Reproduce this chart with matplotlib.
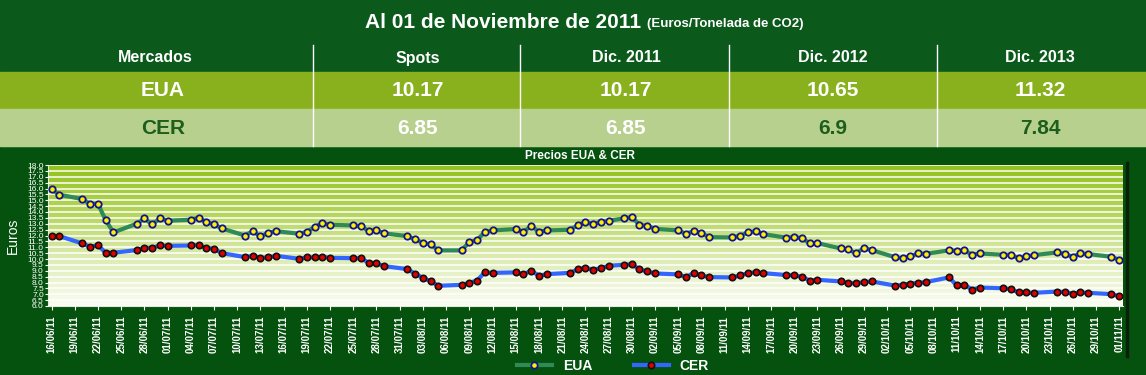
import matplotlib
matplotlib.use('Agg')
import matplotlib.pyplot as plt
import matplotlib.dates as mdates
import numpy as np
import pandas as pd
from matplotlib.patches import Rectangle
from matplotlib.colors import LinearSegmentedColormap

# tabla de cierre
columnas = ['Spots', 'Dic. 2011', 'Dic. 2012', 'Dic. 2013']
mercados = ['EUA', 'CER']
precios_eua = ['10.17', '10.17', '10.65', '11.32']
precios_cer = ['6.85', '6.85', '6.9', '7.84']

# serie diaria (Euros/t)
fechas = ['16/06/11', '17/06/11', '20/06/11', '21/06/11', '22/06/11', '23/06/11', '24/06/11',
          '27/06/11', '28/06/11', '29/06/11', '30/06/11', '01/07/11',
          '04/07/11', '05/07/11', '06/07/11', '07/07/11', '08/07/11',
          '11/07/11', '12/07/11', '13/07/11', '14/07/11', '15/07/11',
          '18/07/11', '19/07/11', '20/07/11', '21/07/11', '22/07/11',
          '25/07/11', '26/07/11', '27/07/11', '28/07/11', '29/07/11',
          '01/08/11', '02/08/11', '03/08/11', '04/08/11', '05/08/11',
          '08/08/11', '09/08/11', '10/08/11', '11/08/11', '12/08/11',
          '15/08/11', '16/08/11', '17/08/11', '18/08/11', '19/08/11',
          '22/08/11', '23/08/11', '24/08/11', '25/08/11', '26/08/11', '27/08/11',
          '29/08/11', '30/08/11', '31/08/11', '01/09/11', '02/09/11',
          '05/09/11', '06/09/11', '07/09/11', '08/09/11', '09/09/11',
          '12/09/11', '13/09/11', '14/09/11', '15/09/11', '16/09/11',
          '19/09/11', '20/09/11', '21/09/11', '22/09/11', '23/09/11',
          '26/09/11', '27/09/11', '28/09/11', '29/09/11', '30/09/11',
          '03/10/11', '04/10/11', '05/10/11', '06/10/11', '07/10/11',
          '10/10/11', '11/10/11', '12/10/11', '13/10/11', '14/10/11',
          '17/10/11', '18/10/11', '19/10/11', '20/10/11', '21/10/11',
          '24/10/11', '25/10/11', '26/10/11', '27/10/11', '28/10/11',
          '31/10/11', '01/11/11']
eua = [15.93, 15.47, 15.10, 14.68, 14.68, 13.31, 12.26,
       13.00, 13.45, 12.94, 13.45, 13.26,
       13.34, 13.52, 13.14, 12.97, 12.60,
       12.00, 12.37, 11.92, 12.23, 12.37,
       12.15, 12.32, 12.72, 13.06, 12.91,
       12.86, 12.80, 12.37, 12.45, 12.18,
       11.95, 11.66, 11.38, 11.24, 10.73,
       10.73, 11.44, 11.61, 12.29, 12.43,
       12.55, 12.32, 12.80, 12.32, 12.43,
       12.49, 12.86, 13.14, 13.00, 13.14, 13.26,
       13.45, 13.57, 12.91, 12.83, 12.57,
       12.43, 12.15, 12.37, 12.23, 11.86,
       11.84, 11.98, 12.26, 12.37, 12.12,
       11.81, 11.87, 11.78, 11.32, 11.35,
       10.90, 10.81, 10.47, 10.93, 10.76,
       10.16, 10.07, 10.24, 10.47, 10.44,
       10.73, 10.70, 10.73, 10.36, 10.47,
       10.36, 10.36, 10.05, 10.22, 10.33,
       10.56, 10.42, 10.19, 10.47, 10.42,
       10.19, 9.93]
cer = [11.95, 11.95, 11.32, 11.04, 11.18, 10.53, 10.53,
       10.76, 10.95, 10.95, 11.15, 11.12,
       11.15, 11.18, 10.95, 10.87, 10.50,
       10.16, 10.27, 10.10, 10.13, 10.27,
       10.02, 10.13, 10.13, 10.19, 10.10,
       10.07, 10.07, 9.68, 9.62, 9.39,
       9.14, 8.74, 8.40, 8.11, 7.72,
       7.80, 7.97, 8.17, 8.86, 8.82,
       8.86, 8.69, 9.02, 8.57, 8.71,
       8.82, 9.11, 9.25, 9.08, 9.22, 9.42,
       9.51, 9.56, 9.11, 8.94, 8.77,
       8.69, 8.46, 8.80, 8.60, 8.46,
       8.43, 8.60, 8.80, 8.88, 8.80,
       8.63, 8.60, 8.49, 8.17, 8.23,
       8.09, 7.94, 7.94, 8.03, 8.09,
       7.74, 7.80, 7.91, 7.97, 8.03,
       8.43, 7.77, 7.80, 7.40, 7.57,
       7.51, 7.43, 7.15, 7.15, 7.12,
       7.23, 7.18, 7.06, 7.15, 7.12,
       7.01, 6.84]

plt.rcParams['font.family'] = ['Liberation Sans', 'DejaVu Sans']

VERDE = '#0b5a1c'
VERDE_OSC = '#1d5e1d'
fig = plt.figure(figsize=(11.46, 3.75), dpi=100, facecolor=VERDE)

# capa de fondo en pixeles para la tabla
bg = fig.add_axes([0, 0, 1, 1], zorder=0)
bg.set_xlim(0, 1146)
bg.set_ylim(375, 0)
bg.axis('off')
bg.add_patch(Rectangle((0, 148), 1146, 227, color='#05520f'))
bg.add_patch(Rectangle((0, 72), 1146, 37, color='#89b11d'))
bg.add_patch(Rectangle((0, 109), 1146, 37, color='#b8d08d'))
for xs in [313, 520, 729, 937]:
    bg.plot([xs, xs], [45, 146], color='white', lw=1)
bg.plot([1127, 1127], [163, 356], color='#0a200a', lw=2.5)

bg.text(647, 23, 'Al 01 de Noviembre de 2011 ', ha='right', va='center',
        fontsize=15, fontweight='bold', color='white')
bg.text(647, 24, '(Euros/Tonelada de CO2)', ha='left', va='center',
        fontsize=9.5, fontweight='bold', color='white')

cx = [155, 418, 626, 833, 1040]
bg.text(cx[0], 58, 'Mercados', ha='center', va='center', fontsize=11.5,
        fontweight='bold', color='white')
for x, c in zip(cx[1:], columnas):
    bg.text(x, 58, c, ha='center', va='center', fontsize=11.5,
            fontweight='bold', color='white')

bg.text(cx[0] + 8, 91, mercados[0], ha='center', va='center', fontsize=15,
        fontweight='bold', color='white')
for x, v in zip(cx[1:], precios_eua):
    bg.text(x, 91, v, ha='center', va='center', fontsize=15,
            fontweight='bold', color='white')

col_cer = ['white', 'white', VERDE_OSC, VERDE_OSC]
bg.text(cx[0] + 8, 128, mercados[1], ha='center', va='center', fontsize=15,
        fontweight='bold', color=VERDE_OSC)
for x, v, c in zip(cx[1:], precios_cer, col_cer):
    bg.text(x, 128, v, ha='center', va='center', fontsize=15,
            fontweight='bold', color=c)

bg.text(580, 156, 'Precios EUA & CER', ha='center', va='center', fontsize=8.5,
        fontweight='bold', color='white')

# grafico
x = pd.to_datetime(fechas, format='%d/%m/%y')
ax = fig.add_axes([48 / 1146, 1 - 306 / 375, (1123 - 48) / 1146, 141 / 375], zorder=2)
ax.set_facecolor('none')

cmap = LinearSegmentedColormap.from_list('g', [(0, '#fbfdf4'), (0.35, '#dcebb0'),
                                               (0.65, '#b6d65e'), (1, '#93c11b')])
grad = np.linspace(0, 1, 256).reshape(-1, 1)
ax.imshow(grad, extent=[0, 1, 0, 1], transform=ax.transAxes, origin='lower',
          aspect='auto', cmap=cmap, zorder=0)

ax.plot(x, eua, color='#2f8a57', lw=3, marker='o', ms=4.6, mfc='#ffee00',
        mec='#14148c', mew=1.3, label='EUA', zorder=3)
ax.plot(x, cer, color='#3366ff', lw=3, marker='o', ms=4.6, mfc='#e00000',
        mec='#111111', mew=1.2, label='CER', zorder=3)

ax.set_ylim(6, 18)
ax.set_yticks(np.arange(6, 18.01, 0.5))
ax.set_yticklabels(['%.1f' % v for v in np.arange(6, 18.01, 0.5)])
ax.yaxis.grid(True, color='white', lw=1.1)
ax.set_axisbelow(False)
for gl in ax.get_ygridlines():
    gl.set_zorder(1)

d0 = pd.Timestamp('2011-06-16')
d1 = pd.Timestamp('2011-11-01')
ax.set_xlim(d0 - pd.Timedelta(hours=11), d1 + pd.Timedelta(hours=12))
ax.set_xticks(pd.date_range(d0, d1, freq='3D'))
ax.xaxis.set_major_formatter(mdates.DateFormatter('%d/%m/%y'))
ax.tick_params(axis='x', colors='white', labelsize=7, rotation=90, length=3, pad=4)
ax.tick_params(axis='y', colors='white', labelsize=6, length=2, pad=1)
for lab in ax.get_xticklabels():
    lab.set_fontweight('bold')
for s in ['top', 'right']:
    ax.spines[s].set_visible(False)
ax.spines['left'].set_color('#e0ecd0')
ax.spines['bottom'].set_color('#e0ecd0')
ax.set_ylabel('Euros', color='white', fontsize=10, labelpad=5)

fig.legend(loc='center', bbox_to_anchor=(0.535, 1 - 366 / 375), ncol=2, frameon=False,
           labelcolor='white', prop={'weight': 'bold', 'size': 10},
           handlelength=2.5, columnspacing=3)

fig.savefig('out.png', dpi=100, facecolor=fig.get_facecolor())
